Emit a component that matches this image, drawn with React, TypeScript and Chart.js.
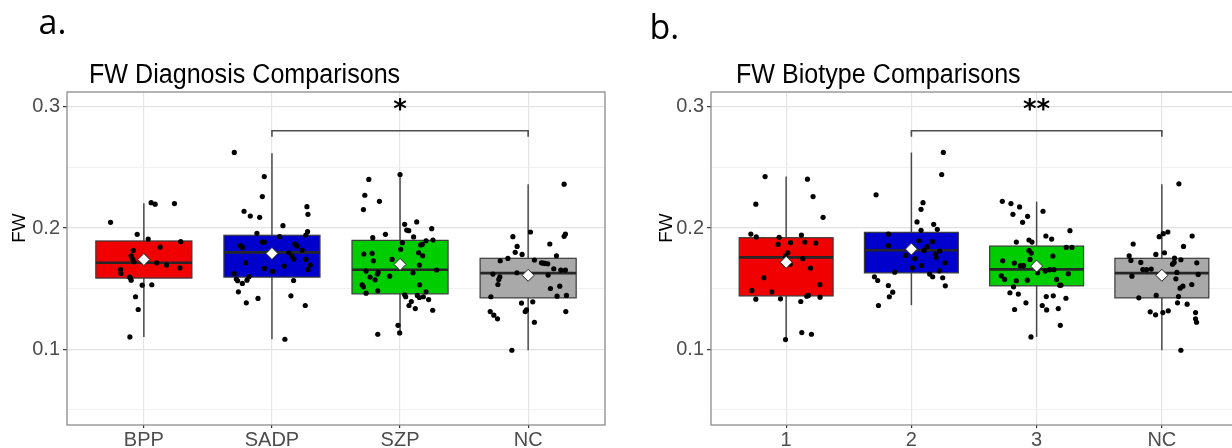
import React, { useEffect, useRef } from "react";
import { Chart, registerables } from "chart.js";

Chart.register(...registerables);

// ---------- categories / labels ----------
const diagnosisLabels = ["BPP", "SADP", "SZP", "NC"];
const biotypeLabels = ["1", "2", "3", "NC"];
const yTickValues = [0.1, 0.2, 0.3];
const boxColors = ["#F00000", "#0000CD", "#00CD00", "#A9A9A9"];

// ---------- panel a: box statistics ----------
const diagWhiskerLow = [0.1102, 0.1083, 0.1135, 0.0992];
const diagQ1 = [0.1587, 0.1595, 0.1457, 0.1424];
const diagMedian = [0.1713, 0.1799, 0.1656, 0.1628];
const diagQ3 = [0.1893, 0.194, 0.1898, 0.175];
const diagWhiskerHigh = [0.2204, 0.2617, 0.2441, 0.2361];
const diagMean = [0.174, 0.179, 0.17, 0.161];
const diagBracket = [2, 4, 0.2802, 0.2753];
const diagStars = "*";

// ---------- panel a: individual points ----------
const diagBppValues = [0.2047, 0.2209, 0.2196, 0.2201, 0.1948, 0.1909, 0.1815, 0.1771, 0.1744, 0.1722, 0.1843, 0.1887, 0.1713, 0.1694, 0.1672, 0.1658, 0.1625, 0.1595, 0.157, 0.1529, 0.1532, 0.1433, 0.1328, 0.1102, 0.1587];
const diagBppJitter = [-0.26, 0.057, 0.088, 0.239, -0.052, 0.034, -0.083, -0.099, -0.088, -0.078, 0.127, 0.288, 0.101, 0.177, 0.281, -0.182, -0.179, -0.112, -0.099, -0.013, 0.062, -0.065, -0.044, -0.109, -0.104];

const diagSadpValues = [0.2623, 0.2424, 0.2259, 0.2138, 0.2099, 0.2088, 0.2176, 0.2113, 0.2019, 0.1956, 0.197, 0.1942, 0.1928, 0.1884, 0.1884, 0.1854, 0.184, 0.1868, 0.1851, 0.1818, 0.1796, 0.1769, 0.1744, 0.1741, 0.1694, 0.1658, 0.1686, 0.1667, 0.1642, 0.1713, 0.1625, 0.1579, 0.1565, 0.1543, 0.157, 0.1598, 0.1567, 0.1474, 0.1383, 0.1419, 0.1441, 0.1361, 0.1083];
const diagSadpJitter = [-0.294, -0.06, -0.075, -0.218, -0.169, -0.096, 0.273, 0.281, 0.086, -0.117, 0.278, 0.265, 0.06, -0.075, -0.06, -0.247, -0.231, 0.179, 0.195, 0.236, 0.132, 0.156, 0.171, 0.265, 0.299, 0.281, 0.096, -0.06, 0.005, -0.205, -0.294, -0.278, -0.268, -0.231, -0.195, -0.179, 0.169, -0.262, -0.2, -0.109, 0.148, 0.26, 0.101];

const diagSzpValues = [0.24, 0.227, 0.222, 0.2152, 0.2441, 0.203, 0.205, 0.1983, 0.1978, 0.1994, 0.1948, 0.1926, 0.192, 0.1895, 0.1901, 0.1879, 0.186, 0.1865, 0.1824, 0.1796, 0.1771, 0.1785, 0.1791, 0.173, 0.1741, 0.1694, 0.1645, 0.1634, 0.162, 0.1631, 0.1653, 0.1603, 0.1595, 0.1573, 0.1532, 0.1515, 0.1463, 0.1482, 0.1532, 0.1474, 0.1449, 0.1433, 0.1444, 0.1427, 0.1433, 0.141, 0.1394, 0.1361, 0.1336, 0.1322, 0.1198, 0.1135, 0.1124];
const diagSzpJitter = [-0.244, -0.275, -0.161, -0.286, 0, 0.036, 0.13, 0.052, 0.068, 0.247, -0.114, 0.106, -0.213, 0.203, 0.257, 0.018, 0.161, 0.174, 0.005, 0.145, 0.177, -0.283, -0.218, -0.208, -0.062, 0.151, -0.265, -0.171, -0.177, 0.101, 0.286, -0.081, -0.234, -0.195, -0.296, -0.286, -0.265, -0.174, 0.153, 0.203, 0.036, 0.044, 0.135, 0.151, 0.182, 0.223, 0.088, 0.07, 0.119, 0.255, -0.016, -0.003, -0.174];

const diagNcValues = [0.2361, 0.1967, 0.195, 0.1931, 0.1928, 0.1868, 0.1848, 0.1799, 0.1782, 0.1771, 0.1749, 0.173, 0.1736, 0.1713, 0.1711, 0.1708, 0.1705, 0.1664, 0.1653, 0.1653, 0.1631, 0.162, 0.1598, 0.1576, 0.1612, 0.1534, 0.1501, 0.152, 0.1438, 0.1444, 0.1433, 0.1381, 0.1391, 0.1325, 0.1311, 0.1311, 0.1281, 0.1251, 0.1223, 0.1311, 0.0992];
const diagNcJitter = [0.281, 0.018, 0.291, 0.281, -0.119, 0.169, -0.086, -0.101, -0.047, 0.221, -0.158, -0.218, 0.049, 0.104, 0.117, 0.132, 0.153, 0.2, 0.255, 0.291, -0.088, -0.275, -0.221, -0.229, 0.156, -0.236, 0.174, 0.247, 0.226, 0.299, -0.291, -0.052, 0.036, -0.013, -0.023, -0.296, -0.268, -0.239, 0.049, 0.294, -0.127];

// ---------- panel b: box statistics ----------
const bioWhiskerLow = [0.108, 0.1364, 0.1102, 0.0992];
const bioQ1 = [0.144, 0.163, 0.1523, 0.1424];
const bioMedian = [0.1758, 0.1816, 0.1659, 0.1628];
const bioQ3 = [0.192, 0.1964, 0.1851, 0.175];
const bioWhiskerHigh = [0.2424, 0.2622, 0.2217, 0.2361];
const bioMean = [0.1717, 0.1826, 0.1686, 0.161];
const bioBracket = [2, 4, 0.2802, 0.2753];
const bioStars = "**";

// ---------- panel b: individual points ----------
const bio1Values = [0.2424, 0.2402, 0.2196, 0.2259, 0.2088, 0.195, 0.1926, 0.1923, 0.1865, 0.1879, 0.1942, 0.1884, 0.1876, 0.1796, 0.1769, 0.1702, 0.1747, 0.1669, 0.159, 0.1534, 0.1485, 0.1474, 0.1413, 0.1416, 0.1394, 0.1438, 0.1444, 0.143, 0.1138, 0.1124, 0.108];
const bio1Jitter = [-0.168, 0.17, -0.242, 0.215, 0.295, -0.282, -0.239, -0.056, -0.064, 0.035, 0.122, 0.149, 0.237, 0.013, -0.005, 0.032, 0.133, 0.194, -0.178, 0.269, -0.274, -0.114, -0.242, -0.045, 0.117, 0.165, 0.178, 0.271, 0.125, 0.202, -0.005];

const bio2Values = [0.2623, 0.2441, 0.2273, 0.2209, 0.2154, 0.205, 0.203, 0.1981, 0.1989, 0.195, 0.1895, 0.1887, 0.1854, 0.1846, 0.1815, 0.1785, 0.181, 0.1774, 0.1747, 0.1758, 0.1713, 0.1691, 0.1672, 0.1647, 0.1636, 0.162, 0.1598, 0.159, 0.1598, 0.1567, 0.1523, 0.1526, 0.1471, 0.1433, 0.1361];
const bio2Jitter = [0.255, 0.242, -0.282, 0.093, 0.077, 0.045, 0.178, 0.077, 0.207, -0.184, 0.059, 0.168, -0.184, 0.125, 0.101, 0.191, 0.226, -0.045, 0.027, 0.197, 0.269, 0.08, 0.008, 0.223, -0.133, 0.146, 0.17, 0.25, -0.295, -0.269, 0.271, -0.184, -0.149, -0.176, -0.263];

const bio3Values = [0.222, 0.2201, 0.2174, 0.2138, 0.2113, 0.2096, 0.2047, 0.1978, 0.1934, 0.1909, 0.1884, 0.1901, 0.1884, 0.184, 0.184, 0.1815, 0.1793, 0.1769, 0.1741, 0.173, 0.1711, 0.1689, 0.1689, 0.1631, 0.1645, 0.1656, 0.1656, 0.1623, 0.1606, 0.1576, 0.1565, 0.157, 0.1576, 0.1529, 0.1529, 0.1515, 0.1466, 0.1455, 0.1383, 0.1435, 0.1441, 0.1421, 0.1361, 0.1328, 0.1325, 0.1336, 0.1198, 0.1102];
const bio3Jitter = [-0.274, -0.205, -0.136, 0.051, -0.189, -0.072, -0.112, 0.266, 0.074, 0.12, -0.162, -0.061, -0.037, 0.237, 0.282, -0.061, -0.043, 0.13, -0.053, -0.271, -0.178, -0.13, -0.104, 0.008, 0.069, 0.104, 0.138, 0.253, -0.282, -0.255, -0.162, -0.074, 0.16, 0.184, 0.194, -0.184, -0.213, -0.146, -0.085, 0.077, 0.133, 0.234, 0.045, -0.176, 0.08, 0.173, 0.189, -0.045];

const bioNcValues = [0.2364, 0.1967, 0.1953, 0.1928, 0.1934, 0.1868, 0.1848, 0.1796, 0.1782, 0.1771, 0.1733, 0.1752, 0.1738, 0.1716, 0.1702, 0.1716, 0.1713, 0.1658, 0.1656, 0.1661, 0.1634, 0.1617, 0.1603, 0.1581, 0.1534, 0.152, 0.1504, 0.1424, 0.1444, 0.1435, 0.1383, 0.1372, 0.1317, 0.1303, 0.1309, 0.1284, 0.1303, 0.1251, 0.1223, 0.0992];
const bioNcJitter = [0.136, 0.048, 0.011, -0.021, 0.242, -0.229, 0.173, 0.021, -0.048, -0.261, -0.247, 0.101, 0.152, 0.098, 0.085, -0.168, 0.279, -0.152, -0.122, -0.085, 0.12, 0.29, -0.239, 0.112, 0.239, 0.168, 0.146, -0.184, -0.045, 0.133, 0.125, 0.202, 0.051, 0.008, -0.093, -0.05, 0.269, 0.269, 0.277, 0.152];

// ---------- axis range ----------
const yMin = 0.0376;
const yMax = 0.3121;
const xMin = 0.4;
const xMax = 4.6;
const boxWidth = 0.75;

const SANS = '"Liberation Sans", Arial, Helvetica, sans-serif';

type PanelSpec = {
  letter: string;
  letterX: number;
  letterY: number;
  title: string;
  titleX: number;
  yTitleX: number;
  labels: string[];
  low: number[];
  q1: number[];
  median: number[];
  q3: number[];
  high: number[];
  mean: number[];
  values: number[][];
  jitter: number[][];
  bracket: number[];
  stars: string;
  padLeft: number;
  padRight: number;
  yAxisWidth: number;
};

const panelA: PanelSpec = {
  letter: "a.",
  letterX: 38.5,
  letterY: 34,
  title: "FW Diagnosis Comparisons",
  titleX: 89,
  yTitleX: 20,
  labels: diagnosisLabels,
  low: diagWhiskerLow,
  q1: diagQ1,
  median: diagMedian,
  q3: diagQ3,
  high: diagWhiskerHigh,
  mean: diagMean,
  values: [diagBppValues, diagSadpValues, diagSzpValues, diagNcValues],
  jitter: [diagBppJitter, diagSadpJitter, diagSzpJitter, diagNcJitter],
  bracket: diagBracket,
  stars: diagStars,
  padLeft: 0,
  padRight: 11,
  yAxisWidth: 67,
};

const panelB: PanelSpec = {
  letter: "b.",
  letterX: 33.5,
  letterY: 39,
  title: "FW Biotype Comparisons",
  titleX: 120,
  yTitleX: 51,
  labels: biotypeLabels,
  low: bioWhiskerLow,
  q1: bioQ1,
  median: bioMedian,
  q3: bioQ3,
  high: bioWhiskerHigh,
  mean: bioMean,
  values: [bio1Values, bio2Values, bio3Values, bioNcValues],
  jitter: [bio1Jitter, bio2Jitter, bio3Jitter, bioNcJitter],
  bracket: bioBracket,
  stars: bioStars,
  padLeft: 31,
  padRight: 19,
  yAxisWidth: 64,
};

function isMajor(v: number) {
  return yTickValues.some((t) => Math.abs(t - v) < 1e-6);
}

function makeConfig(p: PanelSpec): any {
  const meanDataset = {
    type: "scatter",
    data: p.mean.map((m, i) => ({ x: i + 1, y: m })),
    pointStyle: "rectRot",
    pointRadius: 6,
    pointBackgroundColor: "#ffffff",
    pointBorderColor: "#222222",
    pointBorderWidth: 1,
  };
  const pointDatasets = p.values.map((vals, i) => ({
    type: "scatter",
    data: vals.map((v, k) => ({ x: i + 1 + p.jitter[i][k], y: v })),
    pointRadius: 2.6,
    pointBackgroundColor: "#000000",
    pointBorderWidth: 0,
  }));

  const decor = {
    id: "boxDecor",
    beforeDatasetsDraw(chart: any) {
      const { ctx, chartArea: ca } = chart;
      const xs = chart.scales.x;
      const ys = chart.scales.y;
      ctx.save();
      ctx.beginPath();
      ctx.rect(ca.left, ca.top, ca.right - ca.left, ca.bottom - ca.top);
      ctx.clip();
      for (let i = 0; i < p.labels.length; i++) {
        const cx = xs.getPixelForValue(i + 1);
        const x0 = xs.getPixelForValue(i + 1 - boxWidth / 2);
        const x1 = xs.getPixelForValue(i + 1 + boxWidth / 2);
        // whisker
        ctx.strokeStyle = "#4a4a4a";
        ctx.lineWidth = 1.5;
        ctx.beginPath();
        ctx.moveTo(cx, ys.getPixelForValue(p.low[i]));
        ctx.lineTo(cx, ys.getPixelForValue(p.high[i]));
        ctx.stroke();
        // box
        const yTop = ys.getPixelForValue(p.q3[i]);
        const yBot = ys.getPixelForValue(p.q1[i]);
        ctx.fillStyle = boxColors[i];
        ctx.fillRect(x0, yTop, x1 - x0, yBot - yTop);
        ctx.strokeStyle = "#3a3a3a";
        ctx.lineWidth = 1.2;
        ctx.strokeRect(x0, yTop, x1 - x0, yBot - yTop);
        // median
        const ym = ys.getPixelForValue(p.median[i]);
        ctx.strokeStyle = "#262626";
        ctx.lineWidth = 2.6;
        ctx.beginPath();
        ctx.moveTo(x0, ym);
        ctx.lineTo(x1, ym);
        ctx.stroke();
      }
      ctx.restore();
    },
    afterDraw(chart: any) {
      const { ctx, chartArea: ca } = chart;
      const xs = chart.scales.x;
      const ys = chart.scales.y;
      ctx.save();
      // panel border
      ctx.strokeStyle = "#8c8c8c";
      ctx.lineWidth = 1.3;
      ctx.strokeRect(ca.left, ca.top, ca.right - ca.left, ca.bottom - ca.top);
      // significance bracket
      const bx1 = xs.getPixelForValue(p.bracket[0]);
      const bx2 = xs.getPixelForValue(p.bracket[1]);
      const by = ys.getPixelForValue(p.bracket[2]);
      const bt = ys.getPixelForValue(p.bracket[3]);
      ctx.strokeStyle = "#4d4d4d";
      ctx.lineWidth = 1.6;
      ctx.beginPath();
      ctx.moveTo(bx1, bt);
      ctx.lineTo(bx1, by);
      ctx.lineTo(bx2, by);
      ctx.lineTo(bx2, bt);
      ctx.stroke();
      ctx.fillStyle = "#000000";
      ctx.font = 'bold 26px "DejaVu Sans", sans-serif';
      ctx.textAlign = "center";
      ctx.textBaseline = "alphabetic";
      ctx.fillText(p.stars, (bx1 + bx2) / 2, by - 12.5);
      // panel letter
      ctx.textAlign = "left";
      ctx.font = '34px "Open Sans", "Noto Sans", sans-serif';
      ctx.fillText(p.letter, p.letterX, p.letterY);
      // title (slightly condensed like the original rendering)
      ctx.save();
      ctx.translate(p.titleX, 83);
      ctx.scale(0.93, 1);
      ctx.font = "27px " + SANS;
      ctx.fillText(p.title, 0, 0);
      ctx.restore();
      // y axis title
      ctx.translate(p.yTitleX, 228);
      ctx.rotate(-Math.PI / 2);
      ctx.textAlign = "center";
      ctx.textBaseline = "middle";
      ctx.font = "19px " + SANS;
      ctx.fillText("FW", 0, 0);
      ctx.restore();
    },
  };

  return {
    type: "scatter",
    data: { datasets: [meanDataset, ...pointDatasets] },
    options: {
      responsive: false,
      animation: false,
      events: [],
      layout: { padding: { left: p.padLeft, right: p.padRight, top: 92, bottom: 0 } },
      plugins: {
        legend: { display: false },
        tooltip: { enabled: false },
        title: { display: false },
      },
      scales: {
        x: {
          type: "linear",
          min: xMin,
          max: xMax,
          afterBuildTicks: (scale: any) => {
            scale.ticks = p.labels.map((_, i) => ({ value: i + 1 }));
          },
          afterFit: (scale: any) => {
            scale.height = 23;
          },
          border: { display: false },
          grid: {
            color: "#e4e4e4",
            lineWidth: 1.2,
            tickColor: "#333333",
            tickLength: 3,
            tickWidth: 1.2,
          },
          ticks: {
            padding: 0,
            maxRotation: 0,
            autoSkip: false,
            color: "#4d4d4d",
            font: { family: SANS, size: 20 },
            callback: (v: any) => p.labels[Math.round(v) - 1] ?? "",
          },
        },
        y: {
          type: "linear",
          min: yMin,
          max: yMax,
          afterFit: (scale: any) => {
            scale.width = p.yAxisWidth;
          },
          border: { display: false },
          grid: {
            color: (c: any) => (isMajor(c.tick.value) ? "#e2e2e2" : "#eeeeee"),
            lineWidth: (c: any) => (isMajor(c.tick.value) ? 1.3 : 0.8),
            tickColor: (c: any) => (isMajor(c.tick.value) ? "#333333" : "rgba(0,0,0,0)"),
            tickLength: 4,
            tickWidth: 1.2,
          },
          ticks: {
            stepSize: 0.05,
            includeBounds: false,
            padding: 3,
            color: "#4d4d4d",
            font: { family: SANS, size: 20 },
            callback: (v: any) => (isMajor(v) ? Number(v).toFixed(1) : ""),
          },
        },
      },
    },
    plugins: [decor],
  };
}

export default function App() {
  const refA = useRef<HTMLCanvasElement | null>(null);
  const refB = useRef<HTMLCanvasElement | null>(null);

  useEffect(() => {
    const a = new Chart(refA.current as HTMLCanvasElement, makeConfig(panelA));
    const b = new Chart(refB.current as HTMLCanvasElement, makeConfig(panelB));
    return () => {
      a.destroy();
      b.destroy();
    };
  }, []);

  return (
    <div
      style={{
        position: "absolute",
        left: 0,
        top: 0,
        width: 1232,
        height: 448,
        overflow: "hidden",
        background: "#ffffff",
      }}
    >
      <canvas ref={refA} width={616} height={448} style={{ position: "absolute", left: 0, top: 0 }} />
      <canvas ref={refB} width={640} height={448} style={{ position: "absolute", left: 616, top: 0 }} />
    </div>
  );
}
